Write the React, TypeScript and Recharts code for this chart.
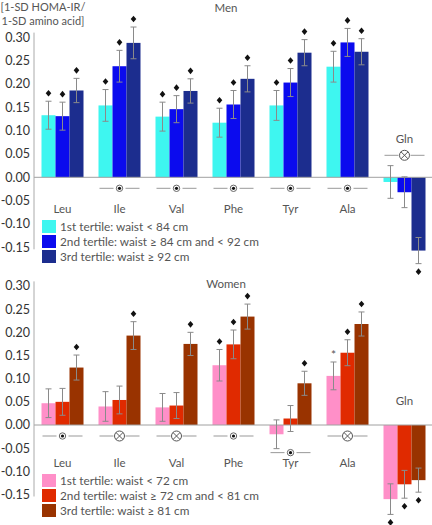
import React from "react";
import { BarChart, Bar, XAxis, YAxis, ReferenceLine, ErrorBar, Legend } from "recharts";

const categories = ["Leu", "Ile", "Val", "Phe", "Tyr", "Ala", "Gln"];
const yTicks = [-0.15, -0.1, -0.05, 0, 0.05, 0.1, 0.15, 0.2, 0.25, 0.3];

// men, tertiles of waist
const menT1 = [0.133, 0.154, 0.13, 0.117, 0.154, 0.237, -0.01];
const menT2 = [0.131, 0.238, 0.146, 0.156, 0.203, 0.289, -0.032];
const menT3 = [0.186, 0.288, 0.185, 0.211, 0.267, 0.269, -0.157];
const menErr1 = [0.03, 0.034, 0.031, 0.031, 0.032, 0.033, 0.035];
const menErr2 = [0.03, 0.034, 0.029, 0.03, 0.03, 0.03, 0.033];
const menErr3 = [0.026, 0.034, 0.026, 0.028, 0.028, 0.028, 0.028];
const menSig1 = ["d", "d", "d", "d", "d", "d", ""];
const menSig2 = ["d", "d", "d", "d", "d", "d", ""];
const menSig3 = ["d", "d", "d", "d", "d", "d", "d"];
const menSymbols = ["", "dot", "dot", "dot", "dot", "dot", "cross"];
const menLegend = [
  "1st tertile: waist < 84 cm",
  "2nd tertile: waist \u2265 84 cm and < 92 cm",
  "3rd tertile: waist \u2265 92 cm",
];
const menColors = ["#3ef6f0", "#0b0bee", "#1c2d8e"];

// women, tertiles of waist
const womenT1 = [0.047, 0.04, 0.038, 0.129, -0.02, 0.106, -0.16];
const womenT2 = [0.05, 0.054, 0.042, 0.174, 0.014, 0.156, -0.128];
const womenT3 = [0.124, 0.193, 0.175, 0.234, 0.09, 0.218, -0.119];
const womenErr1 = [0.031, 0.032, 0.03, 0.034, 0.031, 0.03, 0.033];
const womenErr2 = [0.029, 0.03, 0.028, 0.031, 0.028, 0.028, 0.03];
const womenErr3 = [0.027, 0.03, 0.025, 0.027, 0.026, 0.026, 0.026];
const womenSig1 = ["", "", "", "d", "", "*", "d"];
const womenSig2 = ["", "", "", "d", "", "d", "d"];
const womenSig3 = ["d", "d", "d", "d", "d", "d", "d"];
const womenSymbols = ["dot", "cross", "cross", "dot", "dot", "cross", ""];
const womenLegend = [
  "1st tertile: waist < 72 cm",
  "2nd tertile: waist \u2265 72 cm and < 81 cm",
  "3rd tertile: waist \u2265 81 cm",
];
const womenColors = ["#ff8fc8", "#e02a00", "#993300"];

const FONT = "Lato, 'Open Sans', sans-serif";
const Y_MIN = -0.225;
const Y_MAX = 0.335;
const AXIS_TOP = 0.31;
const AXIS_BOTTOM = -0.15;

function buildRows(vals: number[][], errs: number[][], sigs: string[][]) {
  return categories.map((cat, i) => ({
    cat,
    v0: vals[0][i],
    v1: vals[1][i],
    v2: vals[2][i],
    e0: errs[0][i],
    e1: errs[1][i],
    e2: errs[2][i],
    s0: sigs[0][i],
    s1: sigs[1][i],
    s2: sigs[2][i],
  }));
}

function makeShape(color: string, k: number, px: number) {
  return (props: any) => {
    const { x, y, width, height, payload } = props;
    const v = payload[`v${k}`];
    const e = payload[`e${k}`];
    const s = payload[`s${k}`];
    const top = Math.min(y, y + height);
    const h = Math.abs(height);
    const endY = v >= 0 ? top : top + h;
    const cx = x + width / 2;
    let mark = null;
    if (s) {
      const my = v >= 0 ? endY - e * px - 8 : endY + e * px + 8;
      mark =
        s === "*" ? (
          <text x={cx} y={my + 5} textAnchor="middle" fontSize={12} fill="#555" fontFamily={FONT}>
            *
          </text>
        ) : (
          <path d={`M${cx},${my - 3.3} L${cx + 2.8},${my} L${cx},${my + 3.3} L${cx - 2.8},${my} Z`} fill="#111" />
        );
    }
    return (
      <g>
        <rect x={x} y={top} width={width} height={h} fill={color} />
        {mark}
      </g>
    );
  };
}

function CatTick(props: any) {
  const { x, payload, rows, symbols, zeroY, px, labelOff } = props;
  const i = categories.indexOf(payload.value);
  const r = rows[i];
  const vals = [r.v0, r.v1, r.v2];
  const lows = [r.v0 - r.e0, r.v1 - r.e1, r.v2 - r.e2];
  const allNeg = vals.every((v: number) => v < 0);
  const sym = symbols[i];
  let symY: number;
  let labY: number;
  if (allNeg) {
    symY = zeroY - 22;
    labY = sym ? zeroY - 39 : zeroY - 25;
  } else {
    const minLow = Math.min(...lows);
    symY = Math.max(zeroY + 11, zeroY - minLow * px + 4);
    labY = zeroY + labelOff;
  }
  return (
    <g>
      {sym && (
        <g>
          <line x1={x - 20} x2={x - 6} y1={symY} y2={symY} stroke="#999" />
          <line x1={x + 6} x2={x + 20} y1={symY} y2={symY} stroke="#999" />
          {sym === "dot" ? (
            <g>
              <circle cx={x} cy={symY} r={3.2} fill="#fff" stroke="#666" />
              <circle cx={x} cy={symY} r={1.6} fill="#111" />
            </g>
          ) : (
            <g stroke="#555" fill="#fff">
              <circle cx={x} cy={symY} r={5} />
              <line x1={x - 3.5} y1={symY - 3.5} x2={x + 3.5} y2={symY + 3.5} />
              <line x1={x - 3.5} y1={symY + 3.5} x2={x + 3.5} y2={symY - 3.5} />
            </g>
          )}
        </g>
      )}
      <text x={x} y={labY} textAnchor="middle" dominantBaseline="central" fontSize={11.5} fill="#555" fontFamily={FONT}>
        {payload.value}
      </text>
    </g>
  );
}

type PanelProps = {
  top: number;
  height: number;
  zeroY: number;
  px: number;
  labelOff: number;
  legendTop: number;
  title: string;
  titleY: number;
  vals: number[][];
  errs: number[][];
  sigs: string[][];
  symbols: string[];
  legend: string[];
  colors: string[];
};

function Panel(p: PanelProps) {
  const rows = buildRows(p.vals, p.errs, p.sigs);
  const marginTop = p.zeroY - Y_MAX * p.px;
  const plotBottom = p.zeroY - Y_MIN * p.px;
  const xAxisH = p.height - plotBottom;
  const axisGap = (Y_MAX - AXIS_TOP) * p.px;
  const axisLen = (AXIS_TOP - AXIS_BOTTOM) * p.px + 2;
  return (
    <div style={{ position: "absolute", left: 0, top: p.top, width: 432, height: p.height, overflow: "hidden" }}>
      <BarChart
        width={433}
        height={p.height}
        data={rows}
        margin={{ top: marginTop, right: 0, bottom: 0, left: 0 }}
        barCategoryGap={7.5}
        barGap={0}
      >
        <YAxis
          width={34}
          domain={[Y_MIN, Y_MAX]}
          ticks={yTicks}
          tickFormatter={(v: number) => v.toFixed(2)}
          tick={{ fontSize: 12.5, fill: "#333", fontFamily: FONT }}
          tickLine={false}
          tickSize={0}
          tickMargin={4}
          axisLine={{ stroke: "#aaa", strokeDasharray: `0 ${axisGap} ${axisLen} 2000` }}
        />
        <XAxis
          dataKey="cat"
          height={xAxisH}
          axisLine={false}
          tickLine={false}
          interval={0}
          tick={(t: any) => (
            <CatTick {...t} rows={rows} symbols={p.symbols} zeroY={p.zeroY} px={p.px} labelOff={p.labelOff} />
          )}
        />
        <ReferenceLine y={0} stroke="#a0a0a0" />
        {[0, 1, 2].map((k) => (
          <Bar
            key={k}
            dataKey={`v${k}`}
            name={p.legend[k]}
            fill={p.colors[k]}
            isAnimationActive={false}
            shape={makeShape(p.colors[k], k, p.px)}
          >
            <ErrorBar dataKey={`e${k}`} width={3} stroke="#8a8a8a" strokeWidth={1} />
          </Bar>
        ))}
        <Legend
          layout="horizontal"
          verticalAlign="middle"
          align="center"
          wrapperStyle={{ top: p.legendTop, left: 42, width: 320, height: 46 }}
          content={() => (
            <div style={{ fontFamily: FONT, fontSize: 11.8, color: "#555" }}>
              {p.legend.map((l, i) => (
                <div key={l} style={{ display: "flex", alignItems: "center", height: 15 }}>
                  <span style={{ display: "inline-block", width: 14, height: 13, background: p.colors[i], marginRight: 4 }} />
                  <span>{l}</span>
                </div>
              ))}
            </div>
          )}
        />
      </BarChart>
      <div
        style={{
          position: "absolute",
          left: 180,
          width: 92,
          top: p.titleY - 8,
          textAlign: "center",
          fontFamily: FONT,
          fontSize: 11.5,
          color: "#555",
          lineHeight: "16px",
        }}
      >
        {p.title}
      </div>
    </div>
  );
}

export default function App() {
  return (
    <div style={{ position: "absolute", left: 0, top: 0, width: 432, height: 525, background: "#fff", overflow: "hidden" }}>
      <Panel
        top={0}
        height={286}
        zeroY={177.3}
        px={466.7}
        labelOff={31}
        legendTop={219}
        title="Men"
        titleY={8}
        vals={[menT1, menT2, menT3]}
        errs={[menErr1, menErr2, menErr3]}
        sigs={[menSig1, menSig2, menSig3]}
        symbols={menSymbols}
        legend={menLegend}
        colors={menColors}
      />
      <Panel
        top={250}
        height={282}
        zeroY={175}
        px={463.3}
        labelOff={37}
        legendTop={223}
        title="Women"
        titleY={34}
        vals={[womenT1, womenT2, womenT3]}
        errs={[womenErr1, womenErr2, womenErr3]}
        sigs={[womenSig1, womenSig2, womenSig3]}
        symbols={womenSymbols}
        legend={womenLegend}
        colors={womenColors}
      />
      <div
        style={{
          position: "absolute",
          left: 0,
          top: 0,
          width: 86,
          textAlign: "center",
          fontFamily: FONT,
          fontSize: 11,
          color: "#555",
          lineHeight: "14px",
        }}
      >
        [1-SD HOMA-IR/
        <br />
        1-SD amino acid]
      </div>
    </div>
  );
}
